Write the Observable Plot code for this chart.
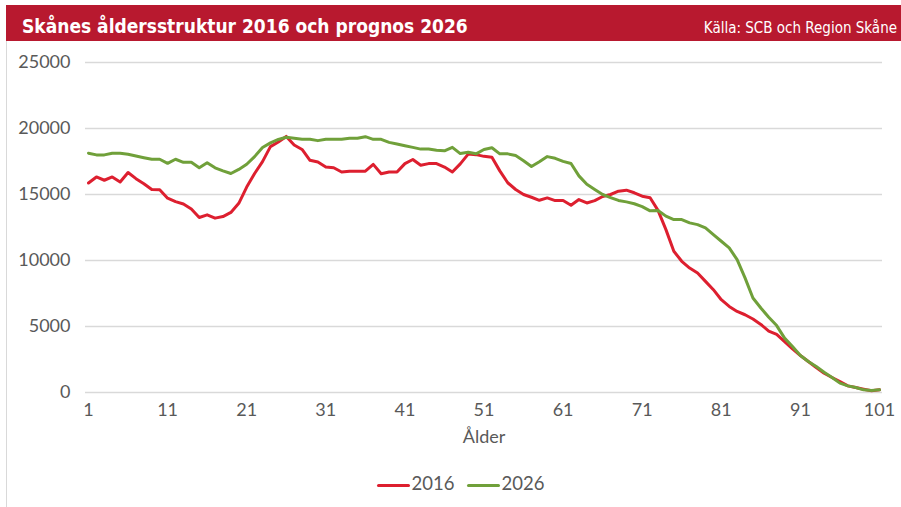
<!DOCTYPE html>
<html><head><meta charset="utf-8">
<script src="https://cdn.jsdelivr.net/npm/d3@7"></script>
<script src="https://cdn.jsdelivr.net/npm/@observablehq/plot@0.6"></script>
<style>
body{margin:0;background:#fff;}
#wrap{position:relative;width:901px;height:507px;overflow:hidden;background:#fff;}
#header{position:absolute;left:6px;top:5px;width:895px;height:36px;background:#B8192F;color:#fff;}
#title{position:absolute;left:16px;top:12px;font:bold 19px/19px "Liberation Sans Narrow","DejaVu Sans Condensed",sans-serif;font-stretch:condensed;white-space:nowrap;}
#source{position:absolute;right:4px;top:16px;font:15px/15px "Liberation Sans Narrow","DejaVu Sans Condensed",sans-serif;font-stretch:condensed;white-space:nowrap;}
#border{position:absolute;left:6px;top:41px;width:0;height:466px;border-left:1px solid #d9d9d9;}
#chart{position:absolute;left:0;top:41px;}
#legend{position:absolute;left:10px;top:472px;width:901px;text-align:center;font:18.5px/22px Lato,sans-serif;color:#595959;}
.sw{display:inline-block;width:33px;height:3px;vertical-align:middle;margin:0 2px 0 0;border-radius:2px;}
.it{display:inline-block;margin:0 6px;}
</style></head>
<body><div id="wrap">
<div id="header"><div id="title">Skånes åldersstruktur 2016 och prognos 2026</div><div id="source">Källa: SCB och Region Skåne</div></div>
<div id="border"></div>
<div id="chart"></div>
<div id="legend"></div>
</div>
<script>
const seriesNames = ["2016", "2026"];
const seriesColors = ["#DD1F2F", "#70A03A"];
const v2016 = [15870,16330,16080,16330,15950,16670,16200,15820,15380,15360,
14720,14460,14280,13900,13260,13460,13210,13330,13640,14330,
15560,16590,17490,18630,18980,19400,18750,18410,17590,17460,
17080,17030,16700,16770,16770,16770,17280,16570,16700,16700,
17340,17650,17210,17340,17340,17080,16700,17320,18060,18020,
17890,17820,16790,15890,15380,15000,14790,14560,14740,14540,
14540,14180,14620,14360,14540,14850,15000,15250,15330,15130,
14870,14750,13800,12340,10700,9940,9430,9050,8420,7790,
7030,6520,6140,5890,5570,5160,4650,4400,3860,3300,
2800,2350,1890,1460,1140,830,500,380,250,130,200];
const v2026 = [18130,18000,18000,18130,18130,18050,17920,17790,17670,17670,
17360,17670,17440,17440,17020,17410,17020,16790,16590,16900,
17290,17870,18560,18910,19170,19340,19260,19180,19180,19080,
19180,19180,19180,19260,19260,19380,19180,19180,18950,18820,
18690,18570,18440,18440,18360,18310,18570,18100,18200,18080,
18410,18540,18080,18080,17950,17560,17120,17480,17870,17740,
17510,17350,16410,15770,15380,15000,14770,14550,14440,14300,
14080,13760,13790,13360,13100,13100,12850,12720,12470,11960,
11460,10950,10070,8680,7160,6400,5700,5070,4120,3480,
2800,2350,1970,1540,1140,710,500,380,200,150,200];
const xTicks = [1,11,21,31,41,51,61,71,81,91,101];
const yTicks = [0,5000,10000,15000,20000,25000];
const xLabel = "Ålder";

const rows = [];
[v2016, v2026].forEach((arr, s) => arr.forEach((v, i) => rows.push({age: i + 1, value: v, series: seriesNames[s]})));

const chart = Plot.plot({
  width: 901, height: 466,
  marginLeft: 85, marginRight: 19, marginTop: 21, marginBottom: 115,
  style: {fontFamily: "Lato, sans-serif", fontSize: "18px", color: "#595959", background: "transparent"},
  x: {domain: [0.62, 101.38]},
  y: {domain: [0, 25000]},
  color: {domain: seriesNames, range: seriesColors},
  marks: [
    Plot.gridY(yTicks, {stroke: "#d9d9d9", strokeOpacity: 1, strokeWidth: 1.5}),
    Plot.axisY(yTicks, {tickSize: 0, tickPadding: 15, tickFormat: d => String(d), label: null}),
    Plot.axisX(xTicks, {tickSize: 0, tickPadding: 11, tickFormat: d => String(d), label: xLabel, labelAnchor: "center", labelArrow: "none", labelOffset: 50}),
    Plot.line(rows, {x: "age", y: "value", z: "series", stroke: "series", strokeWidth: 3, strokeLinejoin: "round", strokeLinecap: "round"})
  ]
});
document.getElementById("chart").appendChild(chart);

const lg = document.getElementById("legend");
seriesNames.forEach((n, i) => {
  const it = document.createElement("span");
  it.className = "it";
  it.innerHTML = `<span class="sw" style="background:${seriesColors[i]}"></span>${n}`;
  lg.appendChild(it);
});
</script>
</body></html>
